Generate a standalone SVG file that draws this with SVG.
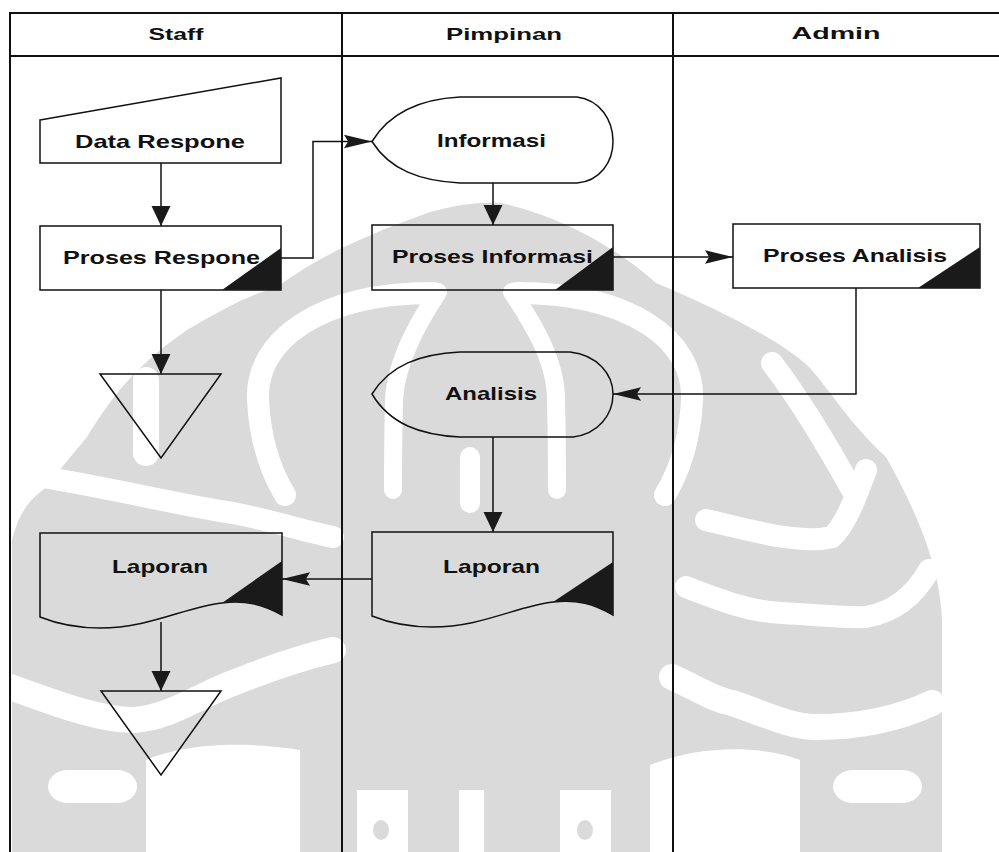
<svg xmlns="http://www.w3.org/2000/svg" width="999" height="852" viewBox="0 0 999 852">
<style>
  .lane{stroke:#111;stroke-width:2;fill:none}
  .shape{stroke:#111;stroke-width:1.5;fill:none}
  .corner{fill:#1a1a1a;stroke:none}
  .conn{stroke:#111;stroke-width:1.5;fill:none}
  .hdr{font-family:"Liberation Sans",Arial,sans-serif;font-weight:bold;font-size:17px;fill:#111;text-anchor:middle}
  .lbl{font-family:"Liberation Sans",Arial,sans-serif;font-weight:bold;font-size:19px;fill:#111;text-anchor:start}
  .wm{fill:#dadada}
  .cut{stroke:#fff;fill:none;stroke-linecap:round}
</style>
<defs>
  <marker id="arrV" markerUnits="userSpaceOnUse" markerWidth="20" markerHeight="20" viewBox="0 0 19 18" refX="19" refY="9" orient="auto">
    <path d="M0,0 L19,9 L0,18 Z" fill="#1a1a1a"/>
  </marker>
  <marker id="arrH" markerUnits="userSpaceOnUse" markerWidth="28" markerHeight="14" viewBox="0 0 27 13" refX="27" refY="6.5" orient="auto">
    <path d="M0,0 L27,6.5 L0,13 L4,6.5 Z" fill="#1a1a1a"/>
  </marker>
</defs>
<rect width="999" height="852" fill="#fff"/>

<g id="watermark">
  <path class="wm" d="M12,852 L12,540 C20,510 30,500 43,490 L87,437 C110,400 133,367 187,330 C230,305 250,295 277,287 C320,255 367,235 430,212 C460,204 480,202 500,203 C560,215 620,250 656,283 C720,310 780,340 809,367 C830,390 849,423 886,457 C910,500 940,560 942,620 L942,852 Z"/>
  <g class="cut">
    <path stroke-width="22" d="M433,293 C320,293 255,340 258,400 C260,440 270,470 285,495"/>
    <path stroke-width="22" d="M517,293 C630,293 695,340 692,400 C690,440 680,470 665,495"/>
    <path stroke-width="18" d="M438,292 C420,320 396,360 394,400 C393,440 393,470 393,490"/>
    <path stroke-width="18" d="M512,292 C532,322 556,360 556,400 C557,440 557,470 557,490"/>
    <path stroke-width="22" d="M772,363 C800,400 830,450 852,490"/>
    <path stroke-width="26" d="M146,380 L146,453"/>
    <path stroke-width="20" d="M470,457 L470,503"/>
    <path stroke-width="22" d="M43,477 C120,490 180,505 233,513 C270,520 300,530 333,537"/>
    <path stroke-width="26" d="M10,687 C60,705 100,720 133,720 C170,718 200,695 233,683 C270,668 300,658 333,650"/>
    <path stroke-width="22" d="M686,587 C720,600 750,612 782,613 C820,615 845,618 866,617 C895,612 915,595 929,570"/>
    <path stroke-width="26" d="M672,677 C700,690 715,700 732,703 C760,712 790,727 816,727 C860,727 900,718 932,703"/>
    <path stroke-width="22" d="M866,470 C855,500 845,525 832,537 C800,545 750,530 706,520"/>
  </g>
  <path d="M146,852 L146,760 C180,745 240,740 300,750 L300,852 Z" fill="#fff"/>
  <path d="M650,852 L650,765 C700,745 760,745 800,760 L800,852 Z" fill="#fff"/>
  <rect x="48" y="770" width="89" height="33" rx="20" fill="#fff"/>
  <rect x="833" y="770" width="89" height="33" rx="20" fill="#fff"/>
  <rect x="357" y="790" width="51" height="62" fill="#fff"/>
  <rect x="459" y="790" width="25" height="62" fill="#fff"/>
  <rect x="560" y="790" width="51" height="62" fill="#fff"/>
  <ellipse cx="381" cy="830" rx="8" ry="10" class="wm"/>
  <ellipse cx="585" cy="830" rx="8" ry="10" class="wm"/>
</g>

<g id="lanes">
  <line class="lane" x1="9" y1="13" x2="999" y2="13"/>
  <line class="lane" x1="9" y1="56" x2="999" y2="56"/>
  <line class="lane" x1="10" y1="13" x2="10" y2="852"/>
  <line class="lane" x1="342" y1="13" x2="342" y2="852"/>
  <line class="lane" x1="673" y1="13" x2="673" y2="852"/>
  <text class="hdr" x="176" y="40" textLength="55" lengthAdjust="spacingAndGlyphs">Staff</text>
  <text class="hdr" x="504" y="40" textLength="116" lengthAdjust="spacingAndGlyphs">Pimpinan</text>
  <text class="hdr" x="836" y="39" textLength="89" lengthAdjust="spacingAndGlyphs">Admin</text>
</g>

<g id="connectors">
  <line class="conn" x1="161" y1="163" x2="161" y2="226" marker-end="url(#arrV)"/>
  <polyline class="conn" points="281,258 313,258 313,141.5 372,141.5" marker-end="url(#arrH)"/>
  <line class="conn" x1="161" y1="290" x2="161" y2="374" marker-end="url(#arrV)"/>
  <line class="conn" x1="493" y1="183" x2="493" y2="225" marker-end="url(#arrV)"/>
  <line class="conn" x1="613" y1="257" x2="733" y2="257" marker-end="url(#arrH)"/>
  <polyline class="conn" points="856,288 856,394 613,394" marker-end="url(#arrH)"/>
  <line class="conn" x1="493" y1="437" x2="493" y2="532" marker-end="url(#arrV)"/>
  <line class="conn" x1="372" y1="579" x2="282" y2="579" marker-end="url(#arrH)"/>
  <line class="conn" x1="161" y1="622" x2="161" y2="691" marker-end="url(#arrV)"/>
</g>

<g id="data-respone">
  <polygon class="shape" points="40,120 281,78 281,163 40,163"/>
  <text class="lbl" x="75" y="148" textLength="170" lengthAdjust="spacingAndGlyphs">Data Respone</text>
</g>

<g id="proses-respone">
  <rect class="shape" x="40" y="226" width="241" height="64"/>
  <polygon class="corner" points="281,248 281,290 222,290"/>
  <text class="lbl" x="63" y="264" textLength="197" lengthAdjust="spacingAndGlyphs">Proses Respone</text>
</g>

<g id="end-1">
  <polygon class="shape" points="100,374 221,374 161,458"/>
</g>

<g id="laporan-staff">
  <path class="shape" d="M40,533 L282,533 L282,615 C262,604 245,600 222,603 C185,607 150,628 100,628 C75,628 55,623 40,617 Z"/>
  <path class="corner" d="M282,561 L222,603 C245,600 262,604 282,615 Z"/>
  <text class="lbl" x="112" y="573" textLength="96" lengthAdjust="spacingAndGlyphs">Laporan</text>
</g>

<g id="end-2">
  <polygon class="shape" points="101,691 221,691 161,775"/>
</g>

<g id="informasi">
  <path class="shape" d="M372,141.5 C390,112 420,99 460,97 L577,97 C600,100 613,120 613,141.5 C613,162 600,181 577,183 L460,183 C420,181 390,170 372,141.5 Z"/>
  <text class="lbl" x="437" y="147" textLength="109" lengthAdjust="spacingAndGlyphs">Informasi</text>
</g>

<g id="proses-informasi">
  <rect class="shape" x="372" y="225" width="241" height="65"/>
  <polygon class="corner" points="613,247 613,290 555,290"/>
  <text class="lbl" x="392" y="263" textLength="201" lengthAdjust="spacingAndGlyphs">Proses Informasi</text>
</g>

<g id="proses-analisis">
  <rect class="shape" x="733" y="224" width="247" height="64"/>
  <polygon class="corner" points="980,247 980,288 918,288"/>
  <text class="lbl" x="763" y="262" textLength="184" lengthAdjust="spacingAndGlyphs">Proses Analisis</text>
</g>

<g id="analisis">
  <path class="shape" d="M372,394 C390,365 420,354 460,352 L570,352 C598,355 613,375 613,394 C613,415 598,434 573,437 L460,437 C420,435 390,424 372,394 Z"/>
  <text class="lbl" x="445" y="400" textLength="92" lengthAdjust="spacingAndGlyphs">Analisis</text>
</g>

<g id="laporan-pimpinan">
  <path class="shape" d="M372,532 L613,532 L613,615 C594,604 577,599 553,602 C517,606 482,627 432,627 C407,627 387,622 372,616 Z"/>
  <path class="corner" d="M613,562 L553,602 C577,599 594,604 613,615 Z"/>
  <text class="lbl" x="443" y="573" textLength="97" lengthAdjust="spacingAndGlyphs">Laporan</text>
</g>
</svg>
